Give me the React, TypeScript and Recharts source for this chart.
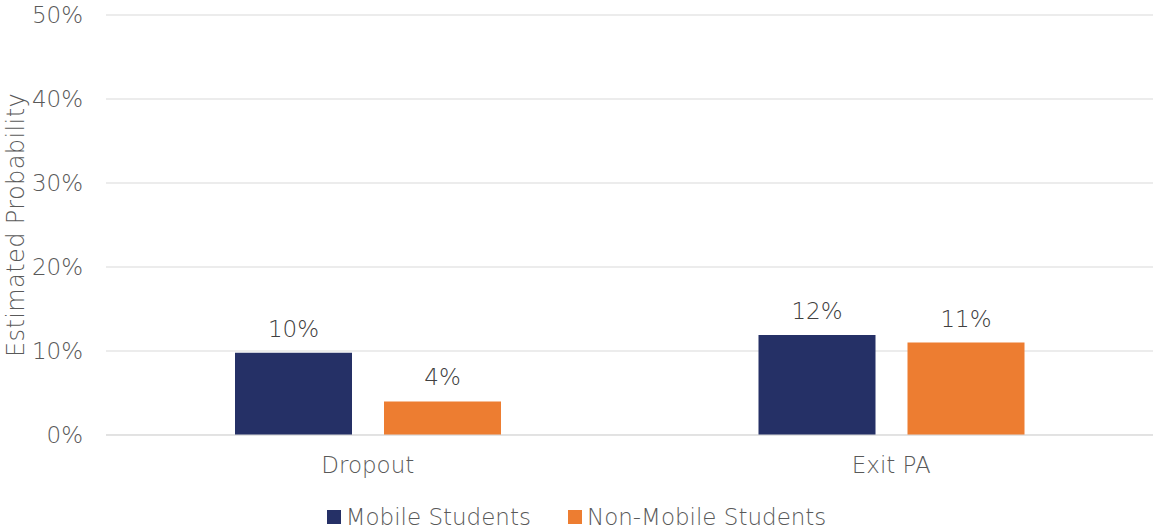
import React from "react";
import { BarChart, Bar, XAxis, YAxis, CartesianGrid, Legend, LabelList } from "recharts";

const categories = ["Dropout", "Exit PA"];
const mobileValues = [9.8, 11.9];
const nonMobileValues = [4.0, 11.0];
const yTicks = [0, 10, 20, 30, 40, 50];
const seriesNames = ["Mobile Students", "Non-Mobile Students"];
const seriesColors = ["#253066", "#ED7D31"];

const data = categories.map((c, i) => ({
  name: c,
  mobile: mobileValues[i],
  nonMobile: nonMobileValues[i],
}));

const FONT = "'DejaVu Sans', sans-serif";
const FW = 200;
const FS = 23;
const TEXT = "#595959";

const LegendContent = () => (
  <div
    style={{
      display: "flex",
      justifyContent: "center",
      alignItems: "center",
      height: 30,
      boxSizing: "border-box",
      paddingTop: 5,
      fontFamily: FONT,
      fontWeight: FW,
      fontSize: FS,
      color: TEXT,
    }}
  >
    {seriesNames.map((n, i) => (
      <div key={n} style={{ display: "flex", alignItems: "center", marginRight: i === 0 ? 37 : 0 }}>
        <div style={{ width: 14, height: 14, background: seriesColors[i], marginRight: 5 }} />
        <span>{n}</span>
      </div>
    ))}
  </div>
);

export default function App() {
  return (
    <div style={{ position: "absolute", left: 0, top: 0, background: "#fff" }}>
      <BarChart
        width={1155}
        height={529}
        data={data}
        margin={{ top: 15, right: 2, left: 0, bottom: 0 }}
        barSize={117}
        barGap={32}
      >
        <CartesianGrid vertical={false} stroke="#d9d9d9" strokeWidth={1} />
        <XAxis
          dataKey="name"
          height={64}
          tickSize={0}
          tickMargin={22}
          axisLine={{ stroke: "#d9d9d9" }}
          tickLine={false}
          tick={{ fill: TEXT, fontSize: FS, fontFamily: FONT, fontWeight: FW }}
        />
        <YAxis
          width={106}
          domain={[0, 50]}
          ticks={yTicks}
          tickFormatter={(v: number) => `${v}%`}
          tickSize={0}
          tickMargin={23}
          axisLine={false}
          tickLine={false}
          tick={{ fill: TEXT, fontSize: FS, fontFamily: FONT, fontWeight: FW }}
          label={{
            value: "Estimated Probability",
            angle: -90,
            position: "insideLeft",
            offset: 15,
            style: {
              textAnchor: "middle",
              fill: TEXT,
              fontSize: 24,
              letterSpacing: 0.4,
              fontFamily: FONT,
              fontWeight: FW,
            },
          }}
        />
        <Legend verticalAlign="bottom" content={<LegendContent />} />
        <Bar dataKey="mobile" name={seriesNames[0]} fill={seriesColors[0]} isAnimationActive={false}>
          <LabelList
            dataKey="mobile"
            position="top"
            offset={16}
            formatter={(v: number) => `${Math.round(v)}%`}
            style={{ fill: "#404040", fontSize: FS, fontFamily: FONT, fontWeight: FW }}
          />
        </Bar>
        <Bar dataKey="nonMobile" name={seriesNames[1]} fill={seriesColors[1]} isAnimationActive={false}>
          <LabelList
            dataKey="nonMobile"
            position="top"
            offset={16}
            formatter={(v: number) => `${Math.round(v)}%`}
            style={{ fill: "#404040", fontSize: FS, fontFamily: FONT, fontWeight: FW }}
          />
        </Bar>
      </BarChart>
    </div>
  );
}
